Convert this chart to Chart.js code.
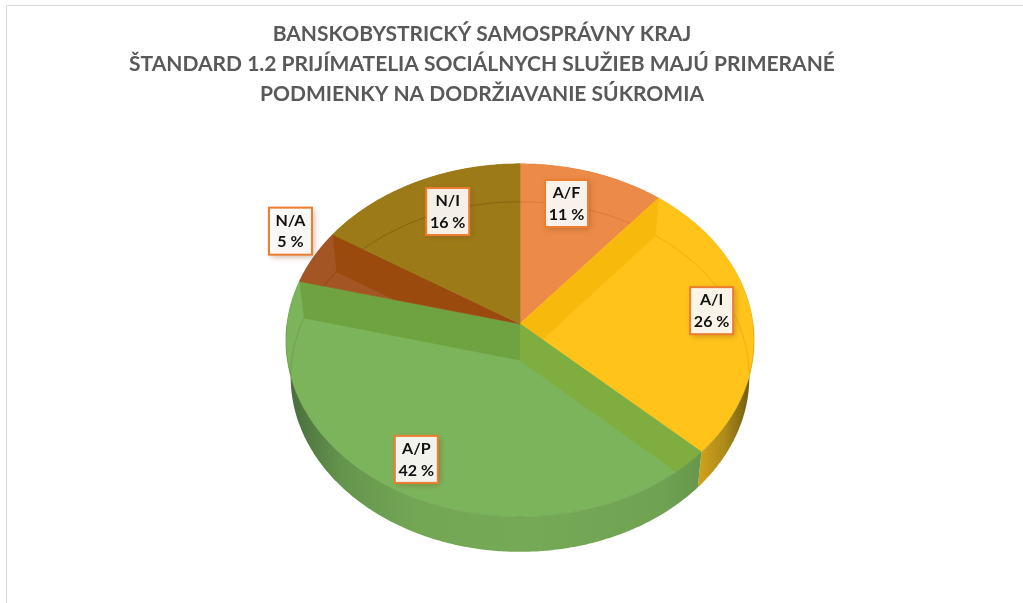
<!DOCTYPE html>
<html>
<head>
<meta charset="utf-8">
<style>
html,body{margin:0;padding:0;background:#fff;overflow:hidden}
#frame{position:absolute;left:6px;top:5px;width:1017px;height:598px;border-left:1px solid #d9d9d9;border-top:1px solid #d9d9d9;box-sizing:border-box;pointer-events:none}
canvas{position:absolute;left:0;top:0;display:block}
</style>
<script src="https://cdn.jsdelivr.net/npm/chart.js@4/dist/chart.umd.js"></script>
</head>
<body>
<canvas id="c" width="1023" height="603"></canvas>
<div id="frame"></div>
<script>
const titleLines = [
  'BANSKOBYSTRICKÝ SAMOSPRÁVNY KRAJ',
  'ŠTANDARD 1.2 PRIJÍMATELIA SOCIÁLNYCH SLUŽIEB MAJÚ PRIMERANÉ',
  'PODMIENKY NA DODRŽIAVANIE SÚKROMIA'
];
const categories = ['A/F', 'A/I', 'A/P', 'N/A', 'N/I'];
const percentages = [11, 26, 42, 5, 16];

const faceColors = ['#EC8A47', '#FFC31A', '#7CB45B', '#A35524', '#9C7A17'];
const wallColors = ['#EC8A47', '#F7B90B', '#7FAD3F', '#9B4A0E', '#9C7A17'];
const endWallColors = ['#EC8A47', '#F7B90B', '#6FA241', '#9B4A0E', '#9C7A17'];
const ringColors = ['rgba(190,90,30,.3)', 'rgba(190,130,0,.3)', 'rgba(70,120,50,.3)', 'rgba(90,40,10,.3)', 'rgba(90,65,5,.35)'];
const sideStops = [
  [[0, '#B8692F'], [1, '#B8692F']],
  [[0, '#CDA01C'], [0.45, '#AD8A1A'], [1, '#6A5610']],
  [[0, '#4A6E3E'], [0.12, '#64944C'], [0.3, '#74A754'], [0.6, '#76A956'], [0.9, '#6FA352'], [1, '#67964A']],
  [[0, '#7D3F12'], [1, '#7D3F12']],
  [[0, '#7A5F10'], [1, '#7A5F10']]
];
const labelNudgeX = [-9, 18, -14, -73.5, 7];
const labelNudgeY = [-4.5, -5, 13, -42, -4];

const PERSPECTIVE = -0.0935, TILT = 0.751;
const LOWER_DY = 36.6, LOWER_SX = 0.98, LOWER_SY = 0.9915;

function project(el, a, f, lower) {
  const u = f * Math.cos(a), v = f * Math.sin(a);
  const w = 1 + PERSPECTIVE * v;
  let dx = el.outerRadius * u / w;
  let dy = el.outerRadius * TILT * v / w;
  if (lower) { dx *= LOWER_SX; dy = dy * LOWER_SY + LOWER_DY; }
  return [el.x + dx, el.y + dy];
}
function rim(el, a1, a2, lower, ctx, start) {
  const n = Math.max(2, Math.ceil(Math.abs(a2 - a1) / 0.01));
  for (let i = 0; i <= n; i++) {
    const p = project(el, a1 + (a2 - a1) * i / n, 1, lower);
    if (i === 0 && start) ctx.moveTo(p[0], p[1]); else ctx.lineTo(p[0], p[1]);
  }
}
function wedgePath(ctx, el) {
  const c = project(el, 0, 0, false);
  ctx.beginPath();
  ctx.moveTo(c[0], c[1]);
  rim(el, el.startAngle, el.endAngle, false, ctx, false);
  ctx.closePath();
}
function band(ctx, el, a) {
  const c = project(el, 0, 0, false), c2 = project(el, 0, 0, true);
  const p = project(el, a, 1, false), p2 = project(el, a, 1, true);
  ctx.beginPath();
  ctx.moveTo(c[0], c[1]); ctx.lineTo(p[0], p[1]); ctx.lineTo(p2[0], p2[1]); ctx.lineTo(c2[0], c2[1]);
  ctx.closePath();
}

const pie3d = {
  id: 'pie3d',
  beforeDatasetsDraw(chart) {
    const ctx = chart.ctx, arcs = chart.getDatasetMeta(0).data;
    arcs.forEach((el, i) => {
      const x0 = i === 1 ? project(el, el.endAngle, 1, false)[0] : project(el, Math.PI, 1, true)[0];
      const x1 = i === 1 ? project(el, 0, 1, false)[0] : project(el, el.startAngle, 1, false)[0];
      const g = ctx.createLinearGradient(x0, 0, x1, 0);
      sideStops[i].forEach(s => g.addColorStop(s[0], s[1]));
      ctx.beginPath();
      rim(el, el.startAngle, el.endAngle, false, ctx, true);
      rim(el, el.endAngle, el.startAngle, true, ctx, false);
      ctx.closePath();
      ctx.fillStyle = g;
      ctx.fill();
    });
    arcs.forEach((el, i) => {
      ctx.save();
      wedgePath(ctx, el);
      ctx.fillStyle = faceColors[i];
      ctx.fill();
      ctx.strokeStyle = faceColors[i];
      ctx.lineWidth = 0.6;
      ctx.stroke();
      ctx.clip();
      band(ctx, el, el.startAngle);
      ctx.fillStyle = wallColors[i];
      ctx.fill();
      band(ctx, el, el.endAngle);
      ctx.fillStyle = endWallColors[i];
      ctx.fill();
      ctx.beginPath();
      rim(el, el.startAngle, el.endAngle, true, ctx, true);
      ctx.strokeStyle = ringColors[i];
      ctx.lineWidth = 1;
      ctx.stroke();
      ctx.restore();
      const a1 = Math.max(el.startAngle, 0), a2 = Math.min(el.endAngle, Math.PI);
      if (a2 > a1) {
        ctx.beginPath();
        rim(el, a1, a2, false, ctx, true);
        ctx.strokeStyle = ringColors[i];
        ctx.lineWidth = 0.8;
        ctx.stroke();
      }
    });
    return false;
  },
  afterDraw(chart) {
    const ctx = chart.ctx, arcs = chart.getDatasetMeta(0).data;
    const boxW = 43, boxH = 47;
    arcs.forEach((el, i) => {
      const mid = (el.startAngle + el.endAngle) / 2;
      const p = project(el, mid, 0.75, false);
      const cx = p[0] + labelNudgeX[i], cy = p[1] + labelNudgeY[i];
      ctx.save();
      ctx.shadowColor = 'rgba(120,70,30,.45)';
      ctx.shadowBlur = 6;
      ctx.shadowOffsetX = 2;
      ctx.shadowOffsetY = 2;
      ctx.fillStyle = 'rgba(255,255,255,.9)';
      ctx.fillRect(cx - boxW / 2, cy - boxH / 2, boxW, boxH);
      ctx.restore();
      ctx.strokeStyle = '#ED7D31';
      ctx.lineWidth = 2;
      ctx.strokeRect(cx - boxW / 2, cy - boxH / 2, boxW, boxH);
      ctx.fillStyle = '#111';
      ctx.font = '700 16px Lato';
      ctx.textAlign = 'center';
      ctx.textBaseline = 'middle';
      ctx.fillText(categories[i], cx, cy - 10.5);
      ctx.fillText(percentages[i] + ' %', cx, cy + 11);
    });
  },
  afterLayout(chart) {
    chart.titleBlock.left = 0;
    chart.titleBlock.right = 964;
  }
};

new Chart(document.getElementById('c'), {
  type: 'pie',
  data: {
    labels: categories,
    datasets: [{ data: percentages, backgroundColor: faceColors, borderWidth: 0 }]
  },
  options: {
    responsive: false,
    animation: false,
    radius: 233,
    layout: { padding: { top: 19, left: 287, right: 270, bottom: 65 } },
    plugins: {
      legend: { display: false },
      tooltip: { enabled: false },
      title: {
        display: true,
        text: titleLines,
        color: '#595959',
        align: 'center',
        padding: 0,
        font: { family: 'Lato', size: 21, weight: '700', lineHeight: 1.44 }
      }
    }
  },
  plugins: [pie3d]
});
</script>
</body>
</html>
